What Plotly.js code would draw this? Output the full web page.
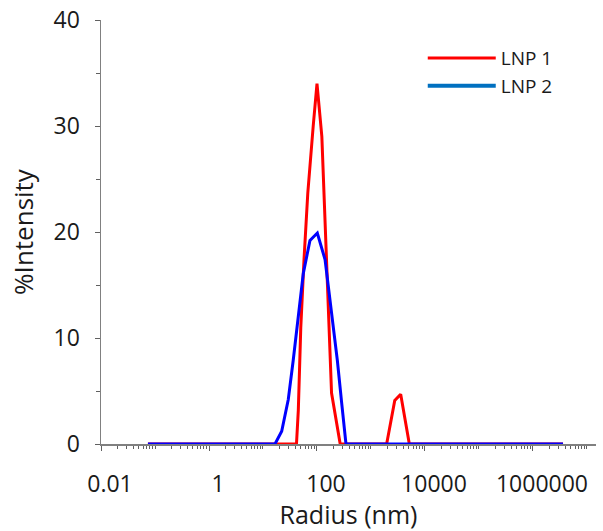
<!DOCTYPE html>
<html>
<head>
<meta charset="utf-8">
<script src="https://cdn.plot.ly/plotly-3.0.1.min.js"></script>
<style>html,body{margin:0;padding:0;background:#fff;}#chart{width:603px;height:531px;}</style>
</head>
<body>
<div id="chart"></div>
<script>
// LNP 1 (red)
const lnp1Radius = [0.074, 41.7, 45.1, 50.1, 57.5, 67.6, 85.1, 100, 123, 151, 186, 269, 1950, 2754, 3548, 5129, 3.6e6];
const lnp1Intensity = [0, 0, 3.2, 11, 17.4, 23.7, 30, 34, 29, 16.7, 4.8, 0, 0, 4.1, 4.7, 0, 0];
// LNP 2 (blue)
const lnp2Radius = [0.074, 16.7, 22.2, 29.4, 36.3, 45.1, 55.8, 74.1, 101.4, 141, 170, 200, 238, 286, 344, 3.6e6];
const lnp2Intensity = [0, 0, 1.2, 4.2, 7.9, 12.3, 16.1, 19.2, 19.9, 17.4, 14.2, 11.1, 7.9, 3.9, 0, 0];

const xTickVals = [0.01, 1, 100, 10000, 1000000];
const xTickText = ['0.01', '1', '100', '10000', '1000000'];
const yTickVals = [0, 10, 20, 30, 40];

const font = 'Open Sans, sans-serif';
const txt = '#1a1a1a';

const traces = [
  {x: lnp1Radius, y: lnp1Intensity, name: 'LNP 1', type: 'scatter', mode: 'lines',
   line: {color: '#FF0000', width: 3}, cliponaxis: false},
  {x: lnp2Radius, y: lnp2Intensity, name: 'LNP 2', type: 'scatter', mode: 'lines',
   line: {color: '#0000FF', width: 3}, cliponaxis: false, showlegend: false},
  {x: [null], y: [null], name: 'LNP 2', type: 'scatter', mode: 'lines',
   line: {color: '#0070C0', width: 4}}
];

const layout = {
  width: 603, height: 531,
  margin: {l: 101, r: 7, t: 20, b: 87},
  paper_bgcolor: '#fff', plot_bgcolor: '#fff',
  font: {family: font, color: txt},
  showlegend: true,
  legend: {x: 0.65, y: 0.955, xanchor: 'left', yanchor: 'top',
           font: {family: font, size: 19, color: txt}, bgcolor: 'rgba(0,0,0,0)',
           itemwidth: 68, tracegroupgap: 0},
  xaxis: {
    type: 'log', range: [-2, 7.167], autorange: false,
    tickmode: 'array', tickvals: xTickVals, ticktext: xTickText,
    ticks: 'outside', ticklen: 5, tickcolor: '#606060', tickwidth: 1,
    ticklabelstandoff: 14, ticklabelshift: 9,
    minor: {ticks: 'outside', ticklen: 3, dtick: 'D1', tickcolor: '#606060', showgrid: false},
    showline: true, linecolor: '#808080', linewidth: 1.5,
    showgrid: false, zeroline: false, layer: 'below traces',
    tickfont: {family: font, size: 23, color: txt},
    title: {text: 'Radius (nm)', font: {family: font, size: 25, color: txt}, standoff: 10}
  },
  yaxis: {
    range: [0, 40], autorange: false,
    tickmode: 'array', tickvals: yTickVals,
    ticks: 'outside', ticklen: 5, tickcolor: '#606060', tickwidth: 1,
    ticklabelstandoff: 10,
    minor: {ticks: 'outside', ticklen: 4, dtick: 5, tickcolor: '#606060', showgrid: false},
    showline: true, linecolor: '#808080', linewidth: 1.5,
    showgrid: false, zeroline: false, layer: 'below traces',
    tickfont: {family: font, size: 23, color: txt},
    title: {text: '%Intensity', font: {family: font, size: 26, color: txt}, standoff: 12}
  }
};

Plotly.newPlot('chart', traces, layout, {displayModeBar: false, staticPlot: true});
</script>
</body>
</html>
